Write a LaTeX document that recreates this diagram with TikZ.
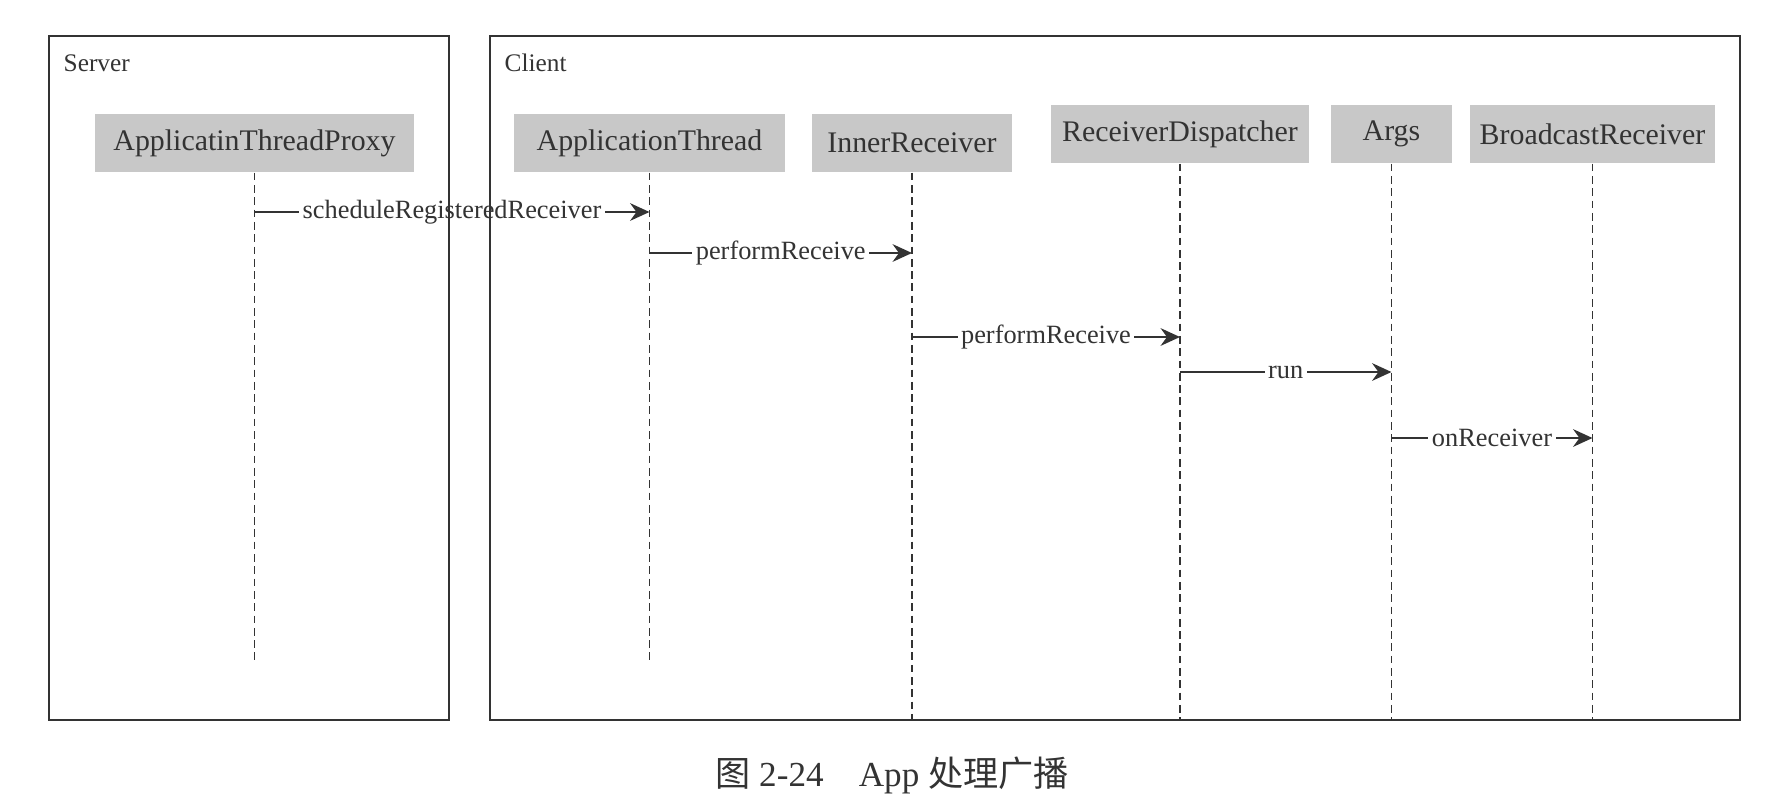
\documentclass[tikz,border=0pt]{standalone}
\usepackage{fontspec}
\setmainfont{Liberation Serif}
\newfontfamily\cjk{Noto Sans CJK SC}
\usetikzlibrary{arrows.meta}
\definecolor{ink}{HTML}{333333}
\definecolor{boxgray}{HTML}{C8C8C8}
\tikzset{
	obj/.style={fill=boxgray,text=ink,minimum height=.58cm,inner sep=0pt,font=\fontsize{8.5}{10}\selectfont},
	life/.style={ink,line width=.55pt,dash pattern=on 2.2pt off 1.3pt},
	msg/.style={ink,line width=.75pt,-{Stealth[length=5.5pt,width=5pt]}},
	lbl/.style={fill=white,text=ink,inner xsep=1pt,inner ysep=1.5pt,font=\fontsize{7.5}{9}\selectfont},
	frame/.style={ink,line width=.7pt}
}

\begin{document}
\begin{tikzpicture}
	\useasboundingbox (0,0) rectangle (17.8,8.1);
	\node[obj,minimum width=3.19cm] (atp) at (2.545,6.67) {ApplicatinThreadProxy};
	\node[obj,minimum width=2.71cm] (at) at (6.495,6.67) {ApplicationThread};
	\node[obj,minimum width=2.00cm] (ir) at (9.12,6.67) {InnerReceiver};
	\node[obj,minimum width=2.58cm] (rd) at (11.80,6.76) {ReceiverDispatcher};
	\node[obj,minimum width=1.21cm] (args) at (13.915,6.76) {Args};
	\node[obj,minimum width=2.45cm] (br) at (15.925,6.76) {BroadcastReceiver};
	\foreach \n/\y in {atp/1.5,at/1.5,ir/.9,rd/.9,args/.9,br/.9}
		\draw[life] (\n.south) -- (\n.south |- 0,\y);
	\foreach \a/\b/\y/\t in {atp/at/5.98/scheduleRegisteredReceiver, at/ir/5.57/performReceive, ir/rd/4.73/performReceive, rd/args/4.38/run, args/br/3.72/onReceiver}
		\draw[msg] (\a.south |- 0,\y) -- node[lbl] {\t} (\b.south |- 0,\y);
	\draw[frame] (.49,.9) rectangle (4.49,7.74);
	\draw[frame] (4.9,.9) rectangle (17.4,7.74);
	\node[anchor=base west,text=ink,inner sep=0pt,font=\fontsize{7.2}{9}\selectfont] (srv) at (.63,7.39) {Server};
	\node[anchor=base west,text=ink,inner sep=0pt,font=\fontsize{7.2}{9}\selectfont] (cli) at (5.04,7.39) {Client};
	\node[text=ink,font=\fontsize{10}{12}\selectfont] (cap) at (8.92,.35) {{\cjk 图}~2-24\quad App~{\cjk 处理广播}};
\end{tikzpicture}
\end{document}
